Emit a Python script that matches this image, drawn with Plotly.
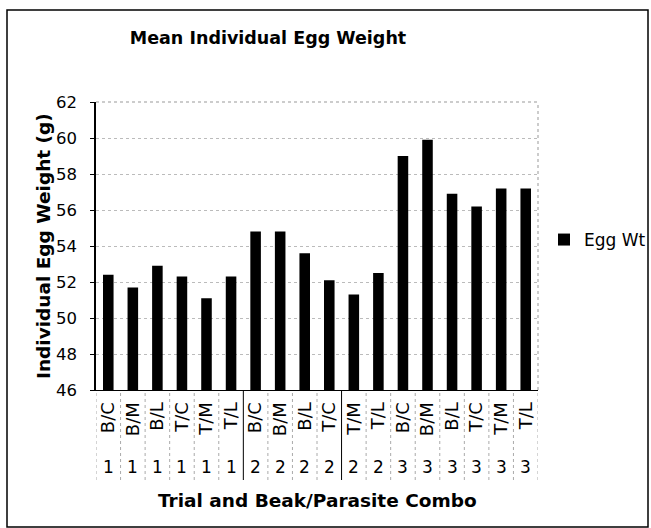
import plotly.graph_objects as go

combos = ["B/C", "B/M", "B/L", "T/C", "T/M", "T/L",
          "B/C", "B/M", "B/L", "T/C", "T/M", "T/L",
          "B/C", "B/M", "B/L", "T/C", "T/M", "T/L"]
trials = ["1", "1", "1", "1", "1", "1",
          "2", "2", "2", "2", "2", "2",
          "3", "3", "3", "3", "3", "3"]
egg_wt = [52.4, 51.7, 52.9, 52.3, 51.1, 52.3,
          54.8, 54.8, 53.6, 52.1, 51.3, 52.5,
          59.0, 59.9, 56.9, 56.2, 57.2, 57.2]
y_ticks = [46, 48, 50, 52, 54, 56, 58, 60, 62]

idx = list(range(len(egg_wt)))
FONT = "DejaVu Sans"

fig = go.Figure()
fig.add_trace(go.Bar(x=idx, y=egg_wt, name="Egg Wt",
                     marker=dict(color="black", line=dict(width=0)),
                     showlegend=True))

W, H = 651, 528
L, R, T, B = 96, 538, 102, 390
pw, ph = R - L, B - T

def px(xp):
    return (xp - L) / pw

def py(yp):
    return (B - yp) / ph

shapes = []
# outer frame
shapes.append(dict(type="rect", xref="paper", yref="paper",
                   x0=px(7), x1=px(648), y0=py(527), y1=py(10),
                   line=dict(color="black", width=1.5)))
# top and right dotted borders of plot area
shapes.append(dict(type="line", xref="paper", yref="paper", x0=0, x1=1, y0=1, y1=1,
                   line=dict(color="#999", width=1, dash="dot")))
shapes.append(dict(type="line", xref="paper", yref="paper", x0=1, x1=1, y0=0, y1=1,
                   line=dict(color="#999", width=1, dash="dot")))
# category dividers below the axis
for i in range(len(egg_wt) + 1):
    b = i - 0.5
    solid = i in (6, 10)
    shapes.append(dict(type="line", xref="x", yref="paper", x0=b, x1=b,
                       y0=py(480), y1=0,
                       line=dict(color="black" if solid else "#aaa",
                                 width=1, dash="solid" if solid else "dot")))

annotations = []
for i, t in enumerate(trials):
    annotations.append(dict(x=i, y=py(467), xref="x", yref="paper", text=t,
                            showarrow=False, font=dict(family=FONT, size=17, color="black"),
                            xanchor="center", yanchor="middle"))
annotations.append(dict(x=0.5, y=py(500), xref="paper", yref="paper",
                        text="<b>Trial and Beak/Parasite Combo</b>", showarrow=False,
                        font=dict(family=FONT, size=18.5, color="black"),
                        xanchor="center", yanchor="middle"))
annotations.append(dict(x=px(43), y=0.5, xref="paper", yref="paper",
                        text="<b>Individual Egg Weight (g)</b>", showarrow=False, textangle=-90,
                        font=dict(family=FONT, size=18.5, color="black"),
                        xanchor="center", yanchor="middle"))

fig.update_layout(
    width=W, height=H,
    margin=dict(l=L, r=W - R, t=T, b=H - B, autoexpand=False),
    paper_bgcolor="white", plot_bgcolor="white",
    font=dict(family=FONT, color="black"),
    title=dict(text="<b>Mean Individual Egg Weight</b>", xref="container", yref="container",
               x=268 / W, y=1 - 38 / H, xanchor="center", yanchor="middle",
               font=dict(family=FONT, size=17.5, color="black")),
    bargap=0.57,
    showlegend=True,
    legend=dict(x=px(544), y=py(240), xanchor="left", yanchor="middle",
                font=dict(family=FONT, size=17, color="black"),
                bgcolor="rgba(0,0,0,0)", itemwidth=30),
    shapes=shapes,
    annotations=annotations,
)

fig.update_xaxes(tickmode="array", tickvals=idx, ticktext=combos, tickangle=-90,
                 range=[-0.5, len(egg_wt) - 0.5],
                 tickfont=dict(family=FONT, size=18, color="black"),
                 showline=True, linecolor="black", linewidth=1,
                 ticks="", showgrid=False, zeroline=False, ticklabelstandoff=4)
fig.update_yaxes(range=[46, 62], tickmode="array", tickvals=y_ticks,
                 tickfont=dict(family=FONT, size=16.5, color="black"),
                 showline=True, linecolor="black", linewidth=1.5,
                 ticks="outside", ticklen=4, tickcolor="black",
                 showgrid=True, gridcolor="#bbb", griddash="dot", gridwidth=1,
                 zeroline=False, ticklabelstandoff=10)

fig.write_html("out.html", config={"displayModeBar": False},
               post_script="document.body.style.margin='0';document.body.style.overflow='hidden';")
